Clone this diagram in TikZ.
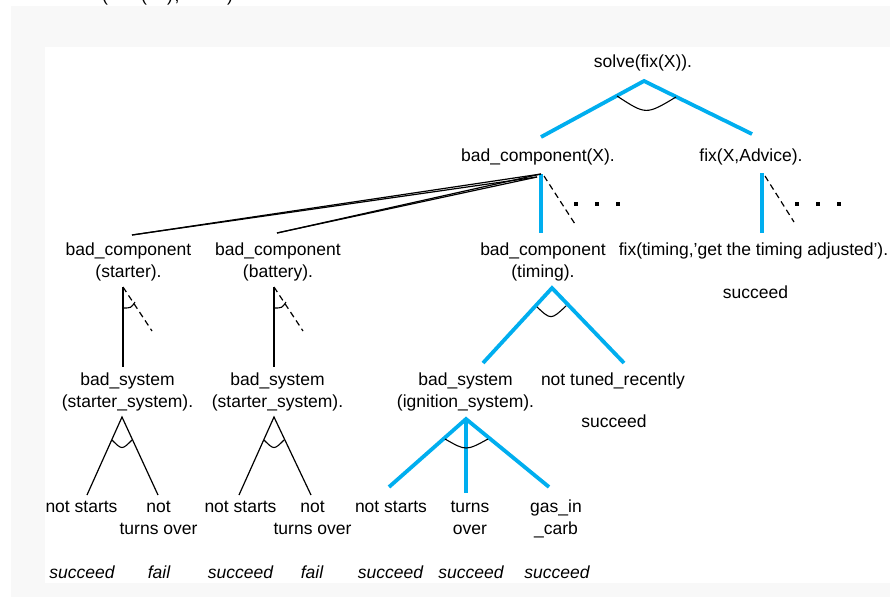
\documentclass[tikz,border=0pt]{standalone}
\usepackage{fontspec}
\setmainfont{Liberation Sans}
\definecolor{goalblue}{RGB}{0,174,239}
\definecolor{panelgray}{RGB}{248,248,248}
\newcommand\stackedlabel[2]{\begin{tabular}[t]{@{}c@{}}#1\\#2\end{tabular}}
\tikzset{
  lbl/.style={anchor=base, inner sep=0pt, font=\fontsize{17.5}{22}\selectfont},
  res/.style={anchor=base, inner sep=0pt, font=\fontsize{17.5}{22}\selectfont\itshape},
  goaledge/.style={draw=goalblue, line width=3.8pt},
  plainedge/.style={draw=black, line width=1.2pt},
  dashedge/.style={draw=black, line width=1.2pt, dash pattern=on 6pt off 4pt},
  andarc/.style={draw=black, line width=1.1pt},
  moredot/.style={rectangle, fill=black, minimum size=3.6pt, inner sep=0pt},
}
\begin{document}
\begin{tikzpicture}[x=1pt, y=-1pt]
\useasboundingbox (0,0) rectangle (890,597);
% page and panels
\fill[white] (0,0) rectangle (890,597);
\fill[panelgray] (11,6) rectangle (890,597);
\fill[white] (45,47) rectangle (890,583);

% tail of the line above the panel
\begin{scope}
  \clip (0,0) rectangle (890,6);
  \node[lbl] (t1) at (105,1.3) {(};
  \node[lbl] (t2) at (144,1.3) {(};
  \node[lbl] (t3) at (170,1.3) {)};
  \node[lbl] (t4) at (177,1.3) {,};
  \node[lbl] (t5) at (230,1.3) {)};
\end{scope}

% ---------- labels ----------
\node[lbl] (solve) at (643,67) {solve(fix(X)).};
\node[lbl] (bcX) at (538,161) {bad\_component(X).};
\node[lbl] (fixXA) at (751,161) {fix(X,Advice).};

\node[lbl] (bcS) at (128.5,255) {\stackedlabel{bad\_component}{(starter).}};
\node[lbl] (bcB) at (278,255) {\stackedlabel{bad\_component}{(battery).}};
\node[lbl] (bcT) at (543,255) {\stackedlabel{bad\_component}{(timing).}};
\node[lbl] (fixT) at (753.5,255) {fix(timing,'get the timing adjusted').};
\node[lbl] (fixTok) at (755.5,298) {succeed};

\node[lbl] (bsS) at (127.5,385) {\stackedlabel{bad\_system}{(starter\_system).}};
\node[lbl] (bsB) at (277.5,385) {\stackedlabel{bad\_system}{(starter\_system).}};
\node[lbl] (bsI) at (465.5,385) {\stackedlabel{bad\_system}{(ignition\_system).}};
\node[lbl] (ntr) at (613,385) {not tuned\_recently};
\node[lbl] (ntrok) at (614,427) {succeed};

\node[lbl] (ns1) at (81.5,512) {not starts};
\node[lbl] (nt1) at (158.5,512) {\stackedlabel{not}{turns over}};
\node[lbl] (ns2) at (240.5,512) {not starts};
\node[lbl] (nt2) at (312.5,512) {\stackedlabel{not}{turns over}};
\node[lbl] (ns3) at (391,512) {not starts};
\node[lbl] (to3) at (470,512) {\stackedlabel{turns}{over}};
\node[lbl] (gc3) at (556,512) {\stackedlabel{gas\_in}{\_carb}};

\node[res] (r1) at (82,578) {succeed};
\node[res] (r2) at (159,578) {fail};
\node[res] (r3) at (240.5,578) {succeed};
\node[res] (r4) at (312,578) {fail};
\node[res] (r5) at (390.5,578) {succeed};
\node[res] (r6) at (471,578) {succeed};
\node[res] (r7) at (557,578) {succeed};

% ---------- connector end points ----------
\coordinate (solve-s) at (644,81);
\coordinate (bcX-n) at (541,137);
\coordinate (fixXA-n) at (752,134);
\coordinate (bcX-s) at (541,174);
\coordinate (bcX-s2) at (537,177);
\coordinate (fixXA-s) at (762,173);
\coordinate (bcS-n) at (132,235);
\coordinate (bcB-n) at (277,233);
\coordinate (bcT-n) at (541,233);
\coordinate (fixT-n) at (762,233);
\coordinate (bcX-more) at (575,224);
\coordinate (fixXA-more) at (794,222);

\coordinate (bcS-s) at (123,287);
\coordinate (bcS-more) at (152,331);
\coordinate (bsS-n) at (123,367);
\coordinate (bcB-s) at (274,287);
\coordinate (bcB-more) at (303,331);
\coordinate (bsB-n) at (274,367);
\coordinate (bcT-s) at (552,288);
\coordinate (bsI-n) at (483,363);
\coordinate (ntr-n) at (624,363);

\coordinate (bsS-s) at (122,417);
\coordinate (ns1-n) at (87,495);
\coordinate (nt1-n) at (158,495);
\coordinate (bsB-s) at (274,417);
\coordinate (ns2-n) at (239,495);
\coordinate (nt2-n) at (311,495);
\coordinate (bsI-s) at (466,419);
\coordinate (ns3-n) at (389,487);
\coordinate (to3-n) at (466,493);
\coordinate (gc3-n) at (549,487);

% ---------- solved branches ----------
\draw[goaledge] (bcX-n) -- (solve-s) -- (fixXA-n);
\draw[goaledge] (bcX-s) -- (bcT-n);
\draw[goaledge] (fixXA-s) -- (fixT-n);
\draw[goaledge] (bsI-n) -- (bcT-s) -- (ntr-n);
\draw[goaledge] (ns3-n) -- (bsI-s) -- (gc3-n);
\draw[goaledge] (bsI-s) -- (to3-n);

% ---------- other branches ----------
\draw[plainedge] (bcX-s) -- (bcS-n);
\draw[plainedge] (bcX-s2) -- (bcS-n);
\draw[plainedge] (bcX-s) -- (bcB-n);
\draw[plainedge] (bcX-s2) -- (bcB-n);
\draw[dashedge] (bcX-s) ++(3,2) -- (bcX-more);
\draw[dashedge] (fixXA-s) ++(3,3) -- (fixXA-more);

\draw[plainedge] (bcS-s) -- (bsS-n);
\draw[dashedge] (bcS-s) -- (bcS-more);
\draw[plainedge] (bcB-s) -- (bsB-n);
\draw[dashedge] (bcB-s) -- (bcB-more);

\draw[plainedge] (ns1-n) -- (bsS-s) -- (nt1-n);
\draw[plainedge] (ns2-n) -- (bsB-s) -- (nt2-n);

% ---------- and-arcs ----------
\draw[andarc] (617,96) .. controls (646,115) .. (676,97);
\draw[andarc] (537,307) .. controls (551,320) .. (566,306);
\draw[andarc] (445,439) .. controls (466,451) .. (488,439);
\draw[andarc] (112,440) .. controls (122,450) .. (132,440);
\draw[andarc] (264,440) .. controls (274,450) .. (284,440);
\draw[andarc] (123,308) .. controls (131,308) .. (135,302);
\draw[andarc] (274,308) .. controls (282,308) .. (286,302);

% ---------- continuation dots ----------
\node[moredot] (d1) at (576,204) {};
\node[moredot] (d2) at (597,204) {};
\node[moredot] (d3) at (618,204) {};
\node[moredot] (d4) at (797,204) {};
\node[moredot] (d5) at (818,204) {};
\node[moredot] (d6) at (839,204) {};
\end{tikzpicture}
\end{document}
